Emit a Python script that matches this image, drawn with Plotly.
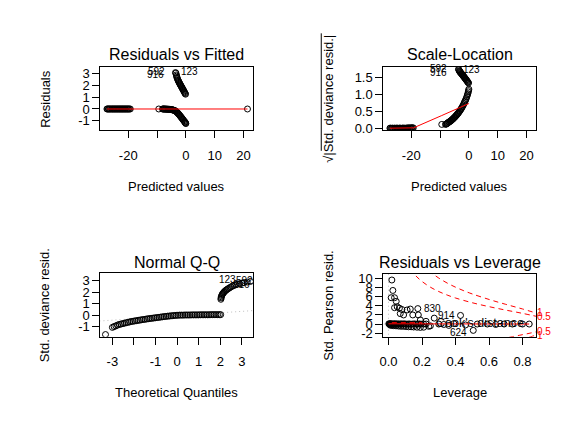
"""
Four glm diagnostic panels (R's plot.lm look) redrawn with plotly.
"""

import plotly.graph_objects as go

W, H = 569, 423

# fitted values, shared by Residuals vs Fitted and Scale-Location
fitted_left = [-27.4, -27.2, -26.9, -26.7, -26.4, -26.2, -25.9, -25.6, -25.4, -25.1, -24.9,
               -24.6, -24.4, -24.1, -23.9, -23.6, -23.4, -23.1, -22.9, -22.6, -22.4, -22.1,
               -21.9, -21.6, -21.4, -21.1, -20.9, -20.6, -20.4, -20.1, -19.9, -19.6, -19.3]
fitted_mid = [-9.4, -8.1, -7.9, -7.7, -7.5, -7.3, -7.1, -6.9, -6.7, -6.5, -6.3, -6.1,
              -5.9, -5.7, -5.5, -5.3, -5.1, -4.9, -4.7, -4.5, -4.3, -4.1, -3.9, -3.7,
              -3.5, -3.3, -3.1, -2.9, -2.7, -2.5, -2.3, -2.1, -1.9, -1.7, -1.5, -1.3,
              -1.1, -0.9, -0.7, -0.5, -0.35, -0.2, -0.1, 0.0]
fitted_up = [-3.6, -3.45, -3.3, -3.2, -3.1, -2.95, -2.8, -2.65, -2.5, -2.35, -2.2, -2.05,
             -1.9, -1.75, -1.6, -1.45, -1.3, -1.15, -1.0, -0.85, -0.7, -0.55, -0.4, -0.25, -0.1]
fitted_far = [21.4]

# residuals
res_left = [0.0, 0.0, 0.0, 0.0, 0.0, 0.0, 0.0, 0.0, 0.0, 0.0, 0.0,
            0.0, 0.0, 0.0, 0.0, 0.0, 0.0, 0.0, 0.0, 0.0, 0.0, 0.0,
            0.0, 0.0, 0.0, 0.0, 0.0, 0.0, 0.0, 0.0, 0.0, 0.0, 0.0]
res_mid = [0.0, 0.0, 0.0, 0.0, 0.0, -0.01, -0.01, -0.01, -0.01, -0.02, -0.02, -0.02,
           -0.03, -0.03, -0.03, -0.04, -0.05, -0.06, -0.07, -0.08, -0.1, -0.11, -0.13, -0.16,
           -0.19, -0.23, -0.28, -0.33, -0.38, -0.43, -0.49, -0.55, -0.61, -0.68, -0.74, -0.8,
           -0.87, -0.93, -1.0, -1.06, -1.11, -1.16, -1.2, -1.24]
res_up = [3.1, 3.05, 2.9, 2.8, 2.7, 2.6, 2.5, 2.42, 2.35, 2.27, 2.2, 2.13,
          2.06, 2.0, 1.93, 1.86, 1.8, 1.73, 1.66, 1.6, 1.53, 1.46, 1.39, 1.32, 1.26]
res_far = [0.0]
rvf_smooth_x = [-27.4, -19.2, -9.4, -4.0, 0.0, 21.4]
rvf_smooth_y = [0.0, 0.0, -0.01, -0.02, -0.02, 0.0]

# sqrt(|std. deviance resid.|)
sl_left = [0.01, 0.01, 0.0, 0.01, 0.01, 0.0, 0.01, 0.01, 0.0, 0.01, 0.01,
           0.01, 0.0, 0.01, 0.01, 0.01, 0.0, 0.01, 0.01, 0.01, 0.01, 0.0,
           0.01, 0.01, 0.01, 0.02, 0.01, 0.01, 0.02, 0.01, 0.02, 0.02, 0.02]
sl_mid = [0.12, 0.12, 0.13, 0.14, 0.15, 0.16, 0.18, 0.19, 0.2, 0.21, 0.22, 0.24,
          0.25, 0.27, 0.28, 0.3, 0.32, 0.33, 0.35, 0.37, 0.39, 0.41, 0.43, 0.45,
          0.47, 0.5, 0.52, 0.55, 0.57, 0.6, 0.63, 0.66, 0.69, 0.73, 0.77, 0.8,
          0.84, 0.88, 0.93, 0.98, 1.02, 1.07, 1.11, 1.15]
sl_up = [1.73, 1.72, 1.69, 1.67, 1.66, 1.64, 1.63, 1.61, 1.6, 1.58, 1.57, 1.55,
         1.53, 1.52, 1.5, 1.48, 1.47, 1.45, 1.43, 1.42, 1.4, 1.38, 1.36, 1.35, 1.33]
sl_smooth_x = [-27.4, -19.2, -9.4, -5.0, -2.0, 0.0]
sl_smooth_y = [0.01, 0.02, 0.38, 0.55, 0.66, 0.73]

# normal Q-Q: theoretical quantiles and std. deviance residuals
qq_x = [-3.32, -3.0, -2.92, -2.84, -2.76, -2.68, -2.6, -2.52, -2.44, -2.36, -2.28, -2.2, -2.12,
        -2.04, -1.96, -1.88, -1.8, -1.72, -1.64, -1.56, -1.48, -1.4, -1.32, -1.24, -1.16,
        -1.08, -1.0, -0.92, -0.84, -0.76, -0.68, -0.6, -0.52, -0.44, -0.36, -0.28, -0.2,
        -0.12, -0.04,
        0.04, 0.12, 0.2, 0.28, 0.36, 0.44, 0.52, 0.6, 0.68, 0.76, 0.84, 0.92, 1.0, 1.08,
        1.16, 1.24, 1.32, 1.4, 1.48, 1.56, 1.64, 1.72, 1.8, 1.88, 1.96, 2.02,
        2.03, 2.04, 2.05, 2.07, 2.09, 2.11, 2.14, 2.17, 2.2, 2.24, 2.28, 2.33, 2.38, 2.44,
        2.5, 2.57, 2.64, 2.72, 2.8, 2.9, 3.0, 3.1, 3.25, 3.4]
qq_y = [-1.67, -1.05, -0.98, -0.92, -0.85, -0.8, -0.76, -0.72, -0.69, -0.65, -0.61, -0.58, -0.54,
        -0.52, -0.49, -0.47, -0.44, -0.42, -0.39, -0.37, -0.35, -0.32, -0.3, -0.28, -0.26,
        -0.24, -0.22, -0.2, -0.18, -0.16, -0.14, -0.12, -0.1, -0.08, -0.07, -0.05, -0.04,
        -0.02, -0.01,
        0.0, 0.01, 0.01, 0.01, 0.02, 0.02, 0.02, 0.02, 0.03, 0.03, 0.03, 0.03, 0.03, 0.04,
        0.04, 0.04, 0.04, 0.04, 0.04, 0.05, 0.05, 0.05, 0.05, 0.05, 0.05, 0.05,
        1.38, 1.5, 1.6, 1.7, 1.78, 1.85, 1.92, 1.99, 2.05, 2.12, 2.18, 2.25, 2.31, 2.38,
        2.45, 2.52, 2.58, 2.63, 2.68, 2.73, 2.77, 2.82, 2.87, 2.92]
qq_line_x = [-3.6, 3.6]
qq_line_y = [-0.50, 0.41]

# residuals vs leverage
lev = [0.020, 0.026, 0.016, 0.036, 0.046, 0.052, 0.036, 0.065, 0.080, 0.111, 0.130, 0.175,
       0.070, 0.090, 0.145, 0.178, 0.190, 0.224, 0.273, 0.430, 0.506,
       0.002, 0.005, 0.008, 0.011, 0.014, 0.017, 0.020, 0.024, 0.028, 0.032, 0.036, 0.040,
       0.045, 0.050, 0.055, 0.060, 0.066, 0.072, 0.078, 0.085, 0.092, 0.100, 0.108, 0.116,
       0.125, 0.135, 0.145, 0.155, 0.165, 0.175, 0.185, 0.195, 0.210, 0.225,
       0.010, 0.020, 0.030, 0.045, 0.060, 0.075, 0.090, 0.105, 0.120, 0.135, 0.150, 0.170,
       0.190, 0.210, 0.240, 0.250,
       0.300, 0.330, 0.360, 0.390, 0.460, 0.530, 0.590, 0.640, 0.690, 0.740, 0.800, 0.840]
pearson = [9.7, 7.4, 5.8, 5.8, 5.0, 3.8, 3.6, 3.5, 3.2, 3.1, 3.3, 3.4,
           2.3, 2.0, 2.0, 2.0, 0.9, 0.6, 1.3, 1.9, -1.4,
           0.05, 0.02, 0.0, 0.04, -0.02, 0.03, 0.0, -0.05, 0.02, 0.0, -0.03, 0.05,
           0.0, -0.04, 0.02, 0.0, -0.05, 0.03, 0.0, -0.02, 0.04, 0.0, -0.03, 0.0,
           0.02, -0.04, 0.0, 0.03, -0.02, 0.0, 0.02, -0.03, 0.0, 0.0,
           -0.25, -0.3, -0.35, -0.4, -0.45, -0.5, -0.5, -0.55, -0.6, -0.6, -0.65, -0.7,
           -0.75, -0.7, -0.5, -0.4,
           0.0, -0.1, -0.3, 0.1, -0.2, 0.0, 0.0, -0.1, 0.0, 0.0, 0.0, 0.0]
lev_smooth_x = [0.0, 0.05, 0.1, 0.2, 0.3, 0.5, 0.84]
lev_smooth_y = [0.05, 0.05, 0.02, 0.0, 0.0, 0.0, 0.0]

# Cook's distance contours (0.5 and 1)
cook05_h = [0.13, 0.155, 0.17, 0.2, 0.25, 0.3, 0.35, 0.4, 0.5, 0.6, 0.7, 0.8, 0.9]
cook05_y = [12.13, 10.95, 10.36, 9.38, 8.12, 7.16, 6.39, 5.74, 4.69, 3.83, 3.07, 2.35, 1.56]
cook1_h = [0.24, 0.27, 0.3, 0.35, 0.4, 0.45, 0.5, 0.6, 0.7, 0.8, 0.9]
cook1_y = [11.8, 10.91, 10.13, 9.04, 8.12, 7.33, 6.63, 5.42, 4.34, 3.32, 2.21]
cook05_low_h = [0.72, 0.74, 0.78, 0.82, 0.86, 0.9]
cook05_low_y = [-2.93, -2.78, -2.49, -2.20, -1.89, -1.56]
cook1_low_h = [0.84, 0.85, 0.87, 0.9]
cook1_low_y = [-2.89, -2.79, -2.56, -2.21]
cook_levels = ["0.5", "1"]
cook_label_y = [1.73, 2.45]

FONT = "Liberation Sans, Arial, Helvetica, sans-serif"
RED = "#FF0000"


def px_x(v):
    return v / W


def px_y(v):
    return 1 - v / H


def circles(x, y, xa, ya):
    return go.Scatter(x=x, y=y, mode="markers", xaxis=xa, yaxis=ya, showlegend=False,
                      marker=dict(symbol="circle-open", size=6, color="black", line=dict(width=1)))


def line(x, y, xa, ya, color=RED, dash="solid", shape="linear"):
    return go.Scatter(x=x, y=y, mode="lines", xaxis=xa, yaxis=ya, showlegend=False,
                      line=dict(color=color, width=1, dash=dash, shape=shape))


fig = go.Figure()

# Residuals vs Fitted
fig.add_trace(circles(fitted_left + fitted_mid + fitted_up + fitted_far,
                      res_left + res_mid + res_up + res_far, "x", "y"))
fig.add_trace(line(rvf_smooth_x, rvf_smooth_y, "x", "y"))

# Scale-Location
fig.add_trace(circles(fitted_left + fitted_mid + fitted_up, sl_left + sl_mid + sl_up, "x2", "y2"))
fig.add_trace(line(sl_smooth_x, sl_smooth_y, "x2", "y2"))

# Normal Q-Q
fig.add_trace(line(qq_line_x, qq_line_y, "x3", "y3", color="#BEBEBE", dash="1px,3px"))
fig.add_trace(circles(qq_x, qq_y, "x3", "y3"))

# Residuals vs Leverage
fig.add_trace(line([-0.1, 1.0], [0, 0], "x4", "y4", color="#BEBEBE", dash="1px,3px"))
fig.add_trace(line([0, 0], [-5, 15], "x4", "y4", color="#BEBEBE", dash="1px,3px"))
fig.add_trace(circles(lev, pearson, "x4", "y4"))
fig.add_trace(line(lev_smooth_x, lev_smooth_y, "x4", "y4"))
for hx, hy in [(cook05_h, cook05_y), (cook1_h, cook1_y),
               (cook05_low_h, cook05_low_y), (cook1_low_h, cook1_low_y)]:
    fig.add_trace(line(hx, hy, "x4", "y4", dash="5px,4px", shape="spline"))
# legend sample line
fig.add_trace(line([0.02, 0.2], [0.3, 0.3], "x4", "y4", dash="5px,4px"))

axis_common = dict(showline=True, mirror=True, linecolor="black", linewidth=1,
                   showgrid=False, zeroline=False, ticks="outside", ticklen=7,
                   tickwidth=1, tickcolor="black", tickmode="array",
                   tickfont=dict(family=FONT, size=13, color="black"))

boxes = {1: (97, 251, 65, 130), 2: (382, 536, 65, 130),
         3: (97, 251, 276, 341), 4: (382, 536, 277, 341)}

xaxes = {
    1: dict(range=[-29.7, 23.4], tickvals=[-20, -10, 0, 10, 20], ticktext=["-20", "", "0", "10", "20"]),
    2: dict(range=[-29.7, 23.4], tickvals=[-20, -10, 0, 10, 20], ticktext=["-20", "", "0", "10", "20"]),
    3: dict(range=[-3.56, 3.53], tickvals=[-3, -2, -1, 0, 1, 2, 3],
            ticktext=["-3", "", "-1", "0", "1", "2", "3"]),
    4: dict(range=[-0.031, 0.882], tickvals=[0, 0.2, 0.4, 0.6, 0.8],
            ticktext=["0.0", "0.2", "0.4", "0.6", "0.8"]),
}
yaxes = {
    1: dict(range=[-1.81, 3.61], tickvals=[-1, 0, 1, 2, 3], ticktext=["-1", "0", "1", "2", "3"]),
    2: dict(range=[-0.05, 1.81], tickvals=[0, 0.5, 1, 1.5], ticktext=["0.0", "0.5", "1.0", "1.5"]),
    3: dict(range=[-1.86, 3.64], tickvals=[-1, 0, 1, 2, 3], ticktext=["-1", "0", "1", "2", "3"]),
    4: dict(range=[-2.8, 11.0], tickvals=[-2, 0, 2, 4, 6, 8, 10],
            ticktext=["-2", "0", "2", "4", "6", "8", "10"]),
}

layout_axes = {}
for i, (x0, x1, y0, y1) in boxes.items():
    sfx = "" if i == 1 else str(i)
    layout_axes["xaxis" + sfx] = dict(axis_common, domain=[px_x(x0), px_x(x1)], anchor="y" + sfx,
                                      ticklabelstandoff=6, **xaxes[i])
    layout_axes["yaxis" + sfx] = dict(axis_common, domain=[px_y(y1), px_y(y0)], anchor="x" + sfx,
                                      ticklabelstandoff=0, **yaxes[i])

annotations = []


def text(s, x, y, size=13, angle=0, xanchor="center", color="black"):
    annotations.append(dict(text=s, x=px_x(x), y=px_y(y), xref="paper", yref="paper",
                            showarrow=False, textangle=angle, xanchor=xanchor, yanchor="middle",
                            font=dict(family=FONT, size=size, color=color)))


# titles and axis labels
text("Residuals vs Fitted", 174, 53, size=16)
text("Scale-Location", 459, 53, size=16)
text("Normal Q-Q", 174, 265, size=16)
text("Residuals vs Leverage", 459, 265, size=16)
text("Predicted values", 174, 187)
text("Predicted values", 459, 187)
text("Theoretical Quantiles", 174, 398)
text("Leverage", 459, 398)
text("Residuals", 41.7, 97.5, angle=-90)
text("\u221a|Std. deviance resid.|", 326.7, 97.5, angle=-90)
text("Std. deviance resid.", 41.7, 308.5, angle=-90)
text("Std. Pearson resid.", 326.7, 309, angle=-90)
text("Cook's distance", 433, 326.7, size=12.5, xanchor="left")


def ident(s, x, y, xa, ya, anchor, xshift, yshift=0):
    annotations.append(dict(text=s, x=x, y=y, xref=xa, yref=ya, showarrow=False,
                            xanchor=anchor, yanchor="middle", xshift=xshift, yshift=yshift,
                            font=dict(family=FONT, size=10, color="black")))


# labelled observations
ident("123", fitted_up[0], res_up[0], "x", "y", "left", 4, 1)
ident("592", fitted_up[1], res_up[1], "x", "y", "right", -9, 2)
ident("916", fitted_up[2], res_up[2], "x", "y", "right", -10, 0)
ident("123", fitted_up[0], sl_up[0], "x2", "y2", "left", 3, 0)
ident("592", fitted_up[1], sl_up[1], "x2", "y2", "right", -10, 1)
ident("916", fitted_up[2], sl_up[2], "x2", "y2", "right", -10, -2)
ident("123", qq_x[-3], qq_y[-3], "x3", "y3", "right", -6, 3)
ident("592", qq_x[-1], qq_y[-1], "x3", "y3", "right", 5, 1)
ident("916", qq_x[-2], qq_y[-2], "x3", "y3", "right", 5, -2)
ident("830", lev[11], pearson[11], "x4", "y4", "left", 4)
ident("914", lev[19], pearson[19], "x4", "y4", "right", -4)
ident("624", lev[20], pearson[20], "x4", "y4", "right", -4, -2)

# Cook's levels on the right edge
for lab, yv in zip(cook_levels, cook_label_y):
    for sign in (1, -1):
        annotations.append(dict(text=lab, x=0.882, y=sign * yv, xref="x4", yref="y4",
                                showarrow=False, xanchor="left", yanchor="middle", xshift=-1,
                                font=dict(family=FONT, size=10, color=RED)))

# overline of the square root in the Scale-Location y label
shapes = [dict(type="line", xref="paper", yref="paper", x0=px_x(319.5), x1=px_x(319.5),
               y0=px_y(31), y1=px_y(151), line=dict(color="black", width=1))]

fig.update_layout(width=W, height=H, margin=dict(l=0, r=0, t=0, b=0),
                  paper_bgcolor="white", plot_bgcolor="white",
                  font=dict(family=FONT, size=13, color="black"),
                  annotations=annotations, shapes=shapes, **layout_axes)

# the page has a default body margin; drop it so the figure sits at the window origin
fig.write_html("out.html", config={"displayModeBar": False},
               post_script="document.body.style.margin = '0px';")
